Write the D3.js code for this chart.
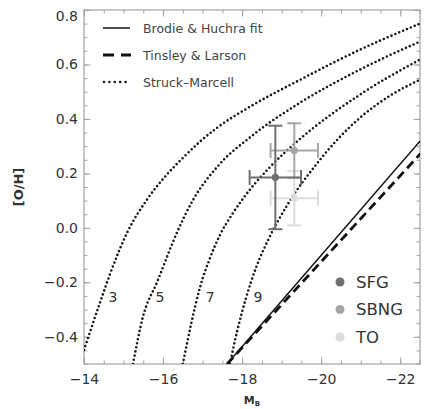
<!DOCTYPE html>
<html>
<head>
<meta charset="utf-8">
<script src="https://cdn.jsdelivr.net/npm/d3@7"></script>
<style>
  html, body { margin: 0; padding: 0; background: #fff; }
  svg { display: block; }
</style>
</head>
<body>
<svg id="chart" width="427" height="409"></svg>
<script>
// ---------- data ----------
const xTicks = [-14, -16, -18, -20, -22];
const yTicks = [-0.4, -0.2, 0.0, 0.2, 0.4, 0.6, 0.8];

// Struck-Marcell model curves (M_B, [O/H])
const smLabels = ["3", "5", "7", "9"];
const sm3MB = [-14.00, -14.41, -14.66, -15.09, -15.59, -16.05, -16.53, -16.93, -17.37, -18.20, -19.47, -20.98, -22.50];
const sm3OH = [-0.449, -0.272, -0.169, -0.018, 0.103, 0.188, 0.261, 0.316, 0.368, 0.445, 0.544, 0.654, 0.750];
const sm5MB = [-15.24, -15.49, -15.85, -16.35, -16.76, -17.37, -18.25, -19.47, -20.98, -22.50];
const sm5OH = [-0.500, -0.327, -0.199, -0.018, 0.103, 0.224, 0.338, 0.460, 0.581, 0.684];
const sm7MB = [-16.50, -16.71, -16.93, -17.19, -17.44, -17.74, -18.02, -18.71, -19.47, -20.98, -22.50];
const sm7OH = [-0.500, -0.353, -0.221, -0.110, -0.026, 0.048, 0.107, 0.224, 0.327, 0.489, 0.618];
const sm9MB = [-17.69, -17.87, -18.10, -18.35, -18.66, -19.16, -19.87, -20.43, -20.98, -21.74, -22.50];
const sm9OH = [-0.500, -0.382, -0.257, -0.147, -0.044, 0.088, 0.232, 0.327, 0.404, 0.485, 0.544];
// curve label anchors (M_B, [O/H])
const smLabelMB = [-14.73, -15.92, -17.19, -18.40];
const smLabelOH = [-0.255, -0.255, -0.255, -0.255];

// Brodie & Huchra fit and Tinsley & Larson (straight lines)
const brodieMB = [-17.62, -22.51];
const brodieOH = [-0.50, 0.320];
const tinsleyMB = [-17.62, -22.51];
const tinsleyOH = [-0.50, 0.272];

// galaxy groups
const groups = ["SFG", "SBNG", "TO"];
const groupMB = [-18.84, -19.32, -19.32];
const groupOH = [0.185, 0.284, 0.109];
const groupMBerr = [0.65, 0.60, 0.60];
const groupOHerr = [0.19, 0.10, 0.10];
const groupColors = ["#6f6f6f", "#a6a6a6", "#dcdcdc"];

const legendNames = ["Brodie & Huchra fit", "Tinsley & Larson", "Struck\u2013Marcell"];

// ---------- layout ----------
const L = 84, R = 420, T = 10, B = 364;
const svg = d3.select("#chart");
const font = "'DejaVu Sans', sans-serif";
const axisColor = "#a0a0a0";
const textColor = "#333";

const x = d3.scaleLinear().domain([-14, -22.5]).range([L, R]);
const y = d3.scaleLinear().domain([-0.5, 0.8]).range([B, T]);

svg.append("defs").append("clipPath").attr("id", "clip")
  .append("rect").attr("x", L).attr("y", T - 1).attr("width", R - L).attr("height", B - T + 1);

// ---------- axes ----------
const xMinor = d3.range(-14, -22.51, -0.5);
const yMinor = d3.range(-0.5, 0.801, 0.05).map(v => +v.toFixed(2));

function styleAxis(g) {
  g.select(".domain").remove();
  g.selectAll(".tick line").attr("stroke", axisColor).attr("stroke-width", 1);
  g.selectAll(".tick text").attr("fill", textColor).attr("font-family", font).attr("font-size", 14);
}

// bottom
svg.append("g").attr("transform", `translate(0,${B})`)
  .call(d3.axisBottom(x).tickValues(xMinor).tickSize(-3.5).tickFormat("")).call(styleAxis);
svg.append("g").attr("transform", `translate(0,${B})`)
  .call(d3.axisBottom(x).tickValues(xTicks).tickSize(-6.5).tickPadding(10).tickFormat(d3.format("d"))).call(styleAxis);
// top
svg.append("g").attr("transform", `translate(0,${T})`)
  .call(d3.axisTop(x).tickValues(xMinor).tickSize(-3.5).tickFormat("")).call(styleAxis);
svg.append("g").attr("transform", `translate(0,${T})`)
  .call(d3.axisTop(x).tickValues(xTicks).tickSize(-6.5).tickFormat("")).call(styleAxis);
// left
svg.append("g").attr("transform", `translate(${L},0)`)
  .call(d3.axisLeft(y).tickValues(yMinor).tickSize(-3.5).tickFormat("")).call(styleAxis);
const yAx = svg.append("g").attr("transform", `translate(${L},0)`)
  .call(d3.axisLeft(y).tickValues(yTicks).tickSize(-6.5).tickPadding(6).tickFormat(d3.format(".1f"))).call(styleAxis);
// keep the top label inside the frame like the original
yAx.selectAll(".tick").each(function(d) {
  const ty = y(d);
  if (ty - 6 < T) d3.select(this).select("text").attr("y", (T + 6) - ty);
});
// right
svg.append("g").attr("transform", `translate(${R},0)`)
  .call(d3.axisRight(y).tickValues(yMinor).tickSize(-3.5).tickFormat("")).call(styleAxis);
svg.append("g").attr("transform", `translate(${R},0)`)
  .call(d3.axisRight(y).tickValues(yTicks).tickSize(-6.5).tickFormat("")).call(styleAxis);

// frame
svg.append("rect").attr("x", L).attr("y", T).attr("width", R - L).attr("height", B - T)
  .attr("fill", "none").attr("stroke", axisColor).attr("stroke-width", 1.2);

// axis titles
const xt = svg.append("text").attr("x", (L + R) / 2).attr("y", 404)
  .attr("text-anchor", "middle").attr("font-family", font).attr("font-weight", "bold")
  .attr("font-size", 11).attr("fill", textColor);
xt.append("tspan").text("M");
xt.append("tspan").attr("font-size", 7).attr("dy", 2).text("B");

svg.append("text").attr("transform", `translate(23,${(T + B) / 2}) rotate(-90)`)
  .attr("text-anchor", "middle").attr("font-family", font).attr("font-weight", "bold")
  .attr("font-size", 13).attr("fill", textColor).text("[O/H]");

// ---------- model curves ----------
const plot = svg.append("g").attr("clip-path", "url(#clip)");
const line = d3.line().x(d => x(d[0])).y(d => y(d[1])).curve(d3.curveMonotoneX);
const lineStraight = d3.line().x(d => x(d[0])).y(d => y(d[1]));

const smCurves = [[sm3MB, sm3OH], [sm5MB, sm5OH], [sm7MB, sm7OH], [sm9MB, sm9OH]];
smCurves.forEach(([mb, oh]) => {
  plot.append("path").datum(d3.zip(mb, oh)).attr("d", line)
    .attr("fill", "none").attr("stroke", "#1a1a1a").attr("stroke-width", 2.6)
    .attr("stroke-linecap", "round").attr("stroke-dasharray", "0,4.2");
});

plot.append("path").datum(d3.zip(brodieMB, brodieOH)).attr("d", lineStraight)
  .attr("fill", "none").attr("stroke", "#111").attr("stroke-width", 1.5);
plot.append("path").datum(d3.zip(tinsleyMB, tinsleyOH)).attr("d", lineStraight)
  .attr("fill", "none").attr("stroke", "#111").attr("stroke-width", 2.8)
  .attr("stroke-dasharray", "9,5");

smLabels.forEach((t, i) => {
  svg.append("text").attr("x", x(smLabelMB[i])).attr("y", y(smLabelOH[i]))
    .attr("dy", "0.36em").attr("text-anchor", "middle")
    .attr("font-family", font).attr("font-size", 14).attr("fill", textColor).text(t);
});

// ---------- data points with error bars ----------
const order = [2, 1, 0];
order.forEach(i => {
  const g = svg.append("g").attr("stroke", groupColors[i]).attr("stroke-width", 2);
  const cx = x(groupMB[i]), cy = y(groupOH[i]);
  const x0 = x(groupMB[i] - groupMBerr[i]), x1 = x(groupMB[i] + groupMBerr[i]);
  const y0 = y(groupOH[i] - groupOHerr[i]), y1 = y(groupOH[i] + groupOHerr[i]);
  g.append("line").attr("x1", x0).attr("x2", x1).attr("y1", cy).attr("y2", cy);
  g.append("line").attr("x1", cx).attr("x2", cx).attr("y1", y0).attr("y2", y1);
  g.append("line").attr("x1", x0).attr("x2", x0).attr("y1", cy - 7.5).attr("y2", cy + 7.5);
  g.append("line").attr("x1", x1).attr("x2", x1).attr("y1", cy - 7.5).attr("y2", cy + 7.5);
  g.append("line").attr("x1", cx - 7).attr("x2", cx + 7).attr("y1", y0).attr("y2", y0);
  g.append("line").attr("x1", cx - 7).attr("x2", cx + 7).attr("y1", y1).attr("y2", y1);
  svg.append("circle").attr("cx", cx).attr("cy", cy).attr("r", 3.6).attr("fill", groupColors[i]);
});

// ---------- legends ----------
const lg = svg.append("g");
const legY = [28, 55, 82];
lg.append("line").attr("x1", 103).attr("x2", 130).attr("y1", legY[0]).attr("y2", legY[0])
  .attr("stroke", "#111").attr("stroke-width", 1.5);
lg.append("line").attr("x1", 103).attr("x2", 131).attr("y1", legY[1]).attr("y2", legY[1])
  .attr("stroke", "#111").attr("stroke-width", 2.8).attr("stroke-dasharray", "11,7");
lg.append("line").attr("x1", 104).attr("x2", 130).attr("y1", legY[2]).attr("y2", legY[2])
  .attr("stroke", "#1a1a1a").attr("stroke-width", 2.6).attr("stroke-linecap", "round")
  .attr("stroke-dasharray", "0,5.4");
legendNames.forEach((t, i) => {
  lg.append("text").attr("x", 143).attr("y", legY[i]).attr("dy", "0.36em")
    .attr("font-family", font).attr("font-size", 12.5).attr("fill", "#444").text(t);
});

groups.forEach((t, i) => {
  const ly = 282 + i * 27.5;
  svg.append("circle").attr("cx", 340).attr("cy", ly).attr("r", 4.5).attr("fill", groupColors[i]);
  svg.append("text").attr("x", 356).attr("y", ly).attr("dy", "0.36em")
    .attr("font-family", font).attr("font-size", 16.5).attr("fill", textColor).text(t);
});
</script>
</body>
</html>
